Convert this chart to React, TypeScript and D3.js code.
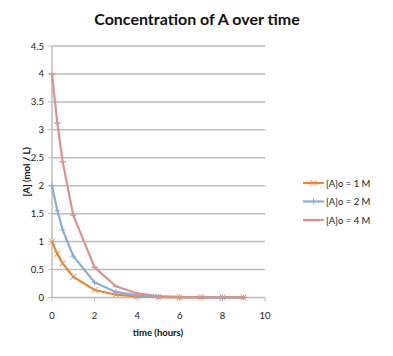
import React from "react";
import * as d3 from "d3";

const times = [0, 0.25, 0.5, 1, 2, 3, 4, 5, 6, 7, 8, 9];
const seriesA1 = [1, 0.78, 0.61, 0.37, 0.135, 0.05, 0.018, 0.007, 0.0025, 0.001, 0.0003, 0.0001];
const seriesA2 = [2, 1.56, 1.21, 0.74, 0.27, 0.1, 0.037, 0.013, 0.005, 0.002, 0.0007, 0.0002];
const seriesA4 = [4, 3.12, 2.43, 1.47, 0.54, 0.2, 0.073, 0.027, 0.01, 0.004, 0.0013, 0.0005];
const seriesNames = ["[A]o = 1 M", "[A]o = 2 M", "[A]o = 4 M"];
const seriesColors = ["#E8873C", "#8EABD6", "#D9928F"];
const markerTypes = ["x", "plus", "dash"];
const yTicks = [0, 0.5, 1, 1.5, 2, 2.5, 3, 3.5, 4, 4.5];
const xTicks = [0, 2, 4, 6, 8, 10];

const W = 393, H = 356;
const left = 52, right = 265, top = 46, bottom = 297.5;

function Marker({ type, x, y, color }: { type: string; x: number; y: number; color: string }) {
  const s = 3;
  if (type === "x") {
    return (
      <g stroke={color} strokeWidth={1}>
        <line x1={x - s} y1={y - s} x2={x + s} y2={y + s} />
        <line x1={x - s} y1={y + s} x2={x + s} y2={y - s} />
      </g>
    );
  }
  if (type === "plus") {
    return (
      <g stroke={color} strokeWidth={1}>
        <line x1={x - s} y1={y} x2={x + s} y2={y} />
        <line x1={x} y1={y - s} x2={x} y2={y + s} />
      </g>
    );
  }
  return <line x1={x - s} y1={y} x2={x + s} y2={y} stroke={color} strokeWidth={1.5} />;
}

export default function App() {
  const x = d3.scaleLinear().domain([0, 10]).range([left, right]);
  const y = d3.scaleLinear().domain([0, 4.5]).range([bottom, top]);
  const all = [seriesA1, seriesA2, seriesA4];
  const line = d3
    .line<number>()
    .x((_, i) => x(times[i]))
    .y((d) => y(d));
  const font = "Lato, 'Open Sans', sans-serif";
  return (
    <svg
      width={W}
      height={H}
      style={{ position: "absolute", left: 0, top: 0, background: "#fff" }}
      fontFamily={font}
    >
      <text x={197} y={25} textAnchor="middle" fontSize={16} fontWeight="bold" fill="#111">
        Concentration of A over time
      </text>
      {yTicks.map((t) => (
        <g key={t}>
          {t > 0 && (
            <line x1={left} x2={right} y1={y(t)} y2={y(t)} stroke="#BDBDBD" strokeWidth={1.5} />
          )}
          <line x1={left - 4} x2={left} y1={y(t)} y2={y(t)} stroke="#BDBDBD" strokeWidth={1} />
          <text x={left - 8} y={y(t) + 3.5} textAnchor="end" fontSize={9.5} fill="#222">
            {t}
          </text>
        </g>
      ))}
      <line x1={left} x2={left} y1={top} y2={bottom} stroke="#BDBDBD" strokeWidth={1.5} />
      <line x1={left} x2={right} y1={bottom} y2={bottom} stroke="#BDBDBD" strokeWidth={1.5} />
      {xTicks.map((t) => (
        <g key={t}>
          <line x1={x(t)} x2={x(t)} y1={bottom} y2={bottom + 4} stroke="#BDBDBD" strokeWidth={1} />
          <text x={x(t)} y={bottom + 21} textAnchor="middle" fontSize={9.5} fill="#222">
            {t}
          </text>
        </g>
      ))}
      <text x={158} y={336} textAnchor="middle" fontSize={9.5} fontWeight="bold" fill="#111">
        time (hours)
      </text>
      <text
        transform={`translate(30,${(top + bottom) / 2}) rotate(-90)`}
        textAnchor="middle"
        fontSize={9.5}
        fontWeight="bold"
        fill="#111"
      >
        [A] (mol / L)
      </text>
      {all.map((s, si) => (
        <g key={si}>
          <path d={line(s) || ""} fill="none" stroke={seriesColors[si]} strokeWidth={2.2} />
          {s.map((v, i) => (
            <Marker key={i} type={markerTypes[si]} x={x(times[i])} y={y(v)} color={seriesColors[si]} />
          ))}
        </g>
      ))}
      {seriesNames.map((n, i) => {
        const ly = 183 + i * 18.5;
        return (
          <g key={n}>
            <line x1={303} x2={324} y1={ly} y2={ly} stroke={seriesColors[i]} strokeWidth={2.2} />
            <Marker type={markerTypes[i]} x={313.5} y={ly} color={seriesColors[i]} />
            <text x={326} y={ly + 3.5} fontSize={9.5} fill="#222">
              {n}
            </text>
          </g>
        );
      })}
    </svg>
  );
}
